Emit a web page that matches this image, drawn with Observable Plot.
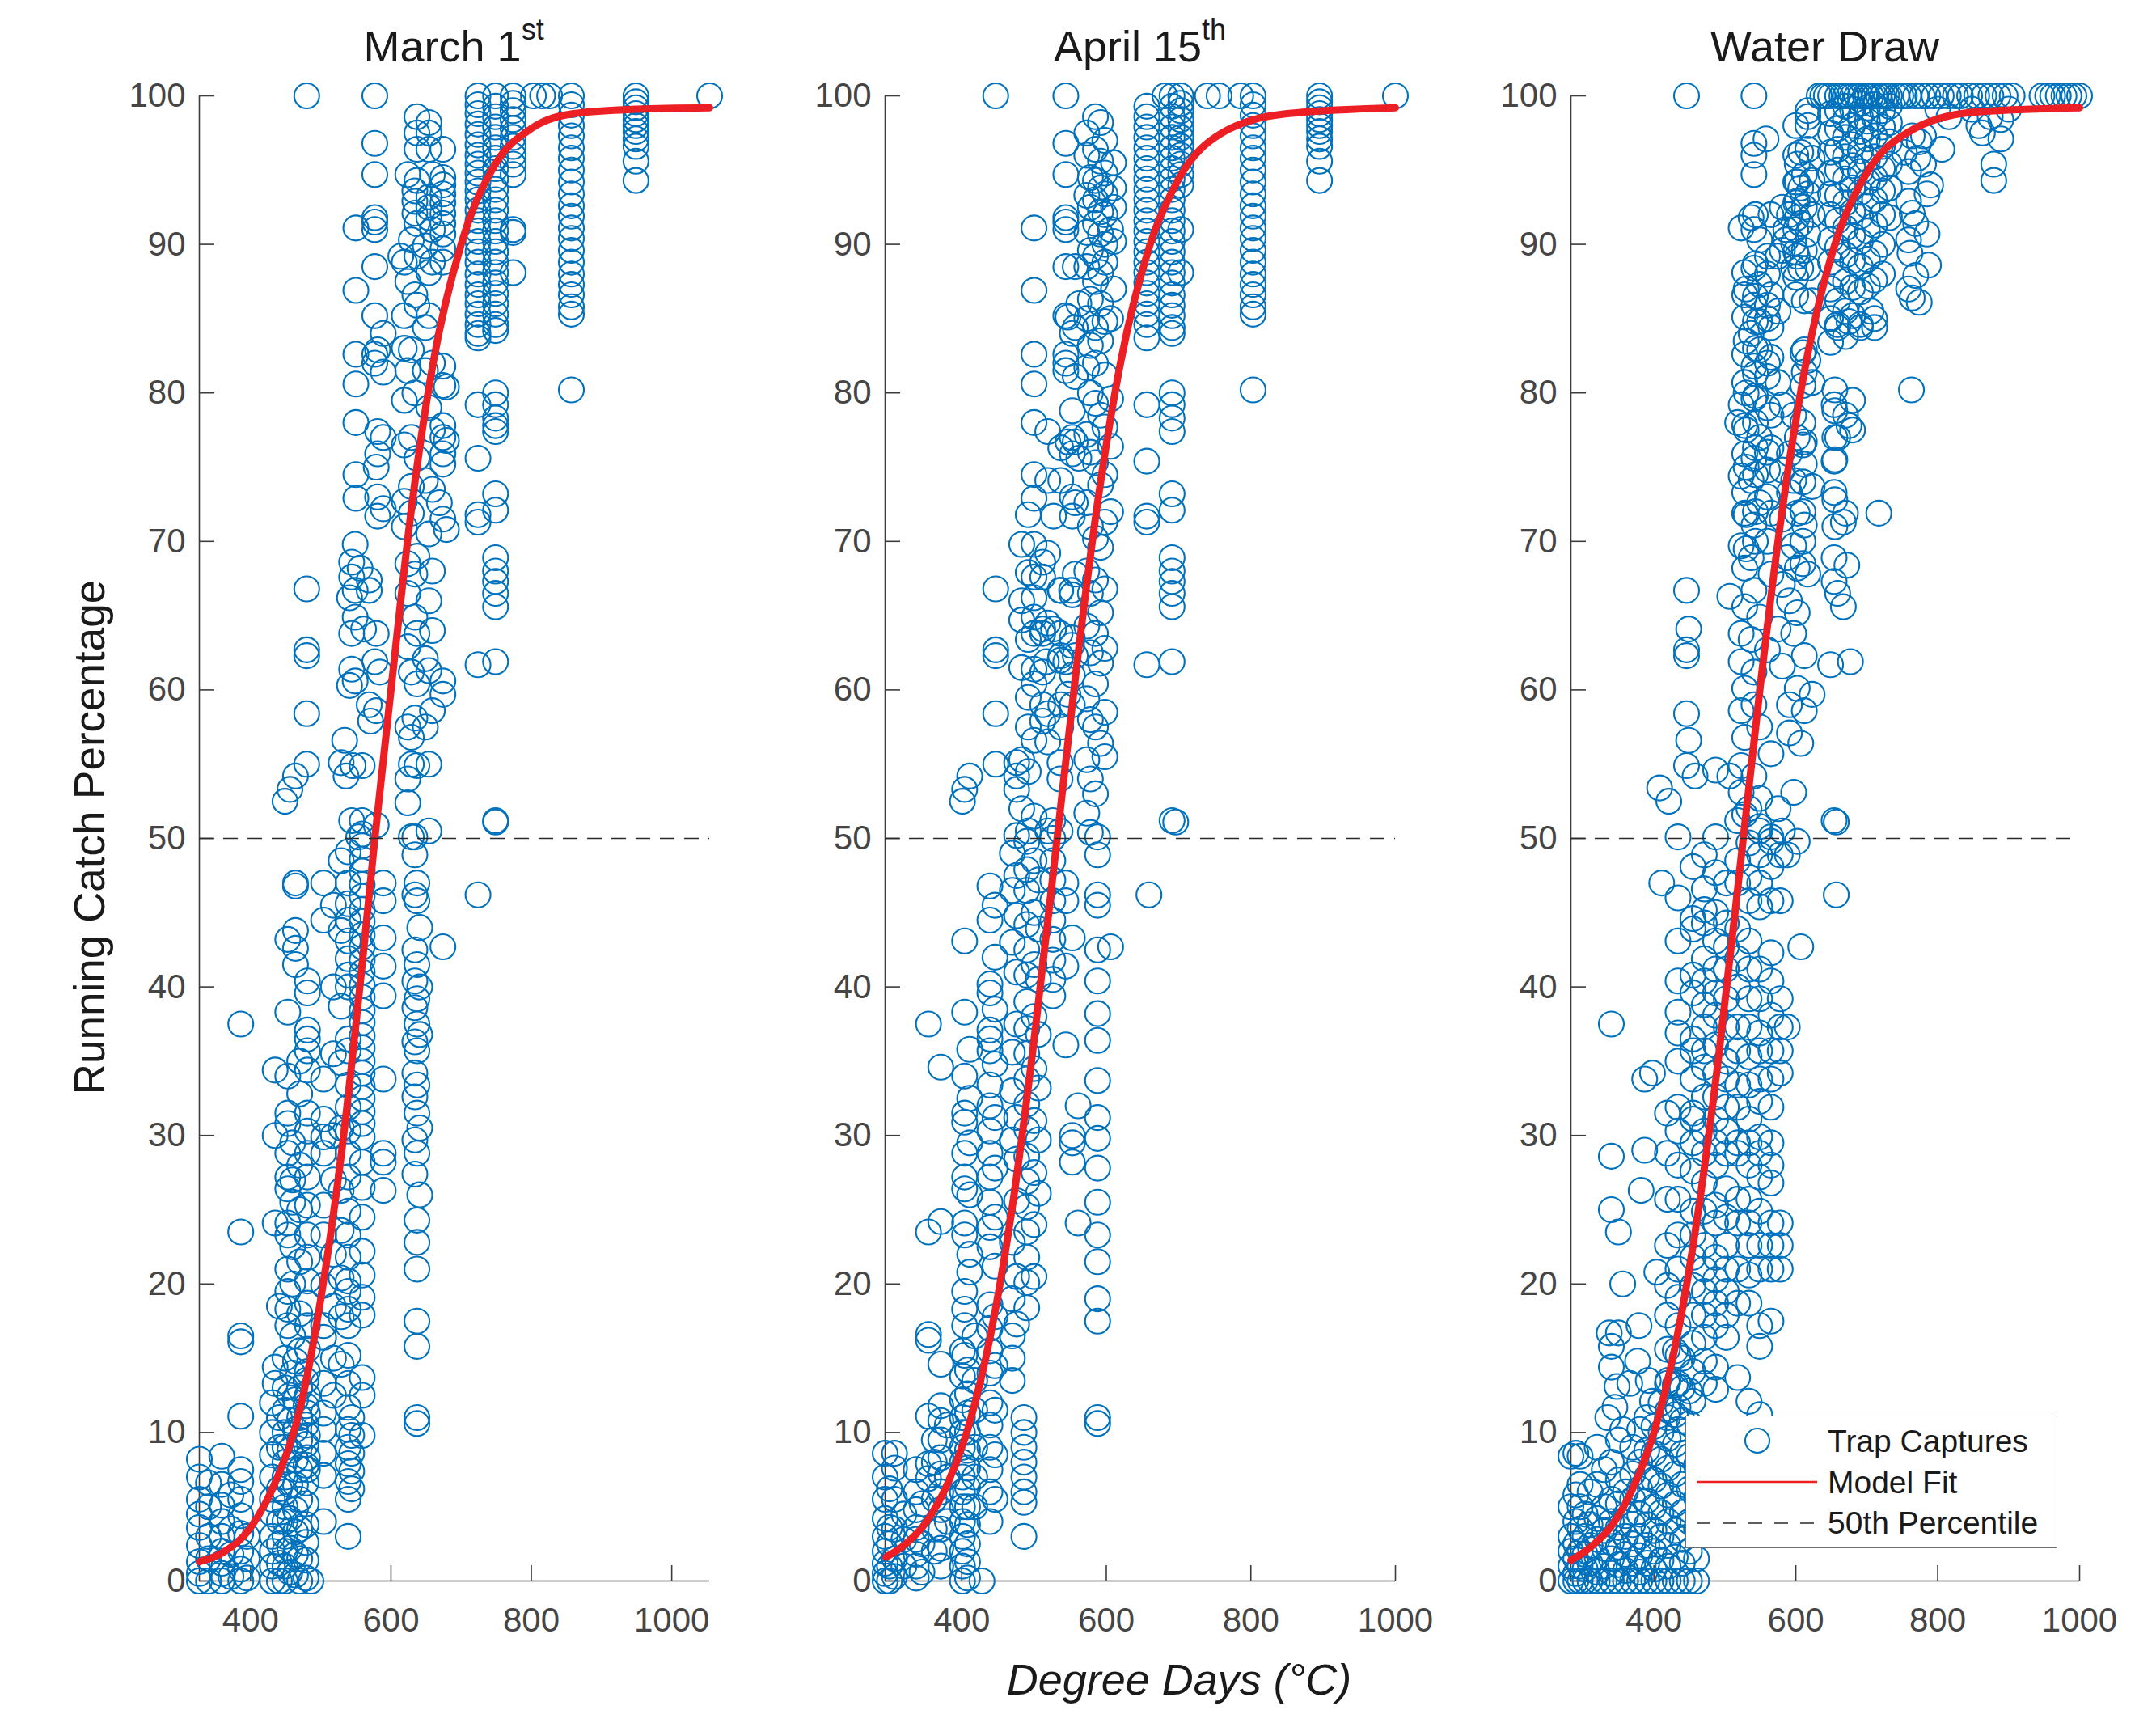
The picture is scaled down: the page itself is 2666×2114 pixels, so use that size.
<!DOCTYPE html>
<html>
<head>
<meta charset="utf-8">
<script src="https://cdn.jsdelivr.net/npm/d3@7"></script>
<script src="https://cdn.jsdelivr.net/npm/@observablehq/plot@0.6"></script>
<style>
  body { margin: 0; background: #fff; }
  #fig { position: relative; width: 2666px; height: 2114px; background: #fff; overflow: hidden;
         font-family: "Liberation Sans", Arial, Helvetica, sans-serif; }
  .panel { position: absolute; }
  .title { position: absolute; width: 800px; text-align: center; font-size: 54px; line-height: 54px; color: #1a1a1a; white-space: nowrap; }
  .title sup { font-size: 36px; line-height: 0; vertical-align: 27px; }
  .ylab { position: absolute; width: 1000px; text-align: center; font-size: 53px; line-height: 60px; color: #1a1a1a;
          transform: rotate(-90deg); transform-origin: 50% 50%; white-space: nowrap; }
  .xlab { position: absolute; width: 1000px; text-align: center; font-size: 54px; line-height: 54px; font-style: italic; color: #1a1a1a; white-space: nowrap; }
  .legend { position: absolute; background: #fff; border: 1.5px solid #6e6e6e; box-sizing: border-box; }
</style>
</head>
<body>
<div id="fig"></div>
<script>
// ---------------- data ----------------
const yTicks = [0, 10, 20, 30, 40, 50, 60, 70, 80, 90, 100];
const xTicks = [400, 600, 800, 1000];
const percentile = [50];
const titles = ["March 1<sup>st</sup>", "April 15<sup>th</sup>", "Water Draw"];
const legendLabels = ["Trap Captures", "Model Fit", "50th Percentile"];

// columns: [degree days, running catch % ...]
const marchCols = [
  [327, 8.2, 7.0, 5.5, 4.5, 3.6, 2.4, 1.3, 0.5, 0],
  [340, 6.6, 5.0, 3.0, 1.5, 0],
  [359, 8.4, 6.5, 5.1, 4.0, 3.0, 2.0, 1.2, 0.5, 0],
  [372, 5.8, 3.5, 1.8, 0.3],
  [386, 37.5, 23.5, 16.5, 16.1, 11.1, 7.5, 6.7, 5.5, 4.4, 3.2, 2.0, 0.8, 0],
  [395, 3.0, 1.5, 0.2],
  [431, 12, 10, 8.5, 7, 5.5, 4.5, 3, 2, 1, 0],
  [435, 34.4, 30.0, 24.1, 14.4, 13.3],
  [441, 18.5, 11, 9, 6.2, 4, 2.5, 1.2, 0],
  [449, 52.5, 15, 13, 11.5, 10, 9, 8, 7, 6, 5, 4, 3, 2, 1, 0],
  [453, 43.2, 38.3, 34.0, 31.5, 30.8, 28.8, 27.2, 26.4, 24.1, 23.3, 21, 19.5, 18.3, 17.2],
  [456, 53.3, 12.5, 10.8, 8.8, 6.5, 4.2, 2.2, 0.6],
  [460, 29.5, 27.0, 25.5, 22.5, 20.0, 16.5, 14],
  [464, 54.2, 47, 46.8, 43.8, 42.6, 41.5, 14.8, 12.2, 10.2, 8.2, 6.5, 4.8, 3.3, 1.8, 0.4],
  [470, 35, 32.8, 28, 25, 21.5, 18, 15.5, 13, 11, 9.5, 7.5, 5.5, 3.5, 1.5, 0],
  [479, 13.5, 11.8, 10.5, 9.2, 7.8, 6.6, 5.2, 3.8, 2.6, 1.4, 0.2],
  [480, 100, 66.8, 62.7, 62.3, 58.4, 55],
  [481, 40.4, 39.6, 37.1, 36.5, 35.7, 34.4, 31.5, 30.3, 28.8, 27.2, 25.3, 23.3, 21.8, 20.2, 18.7, 17.2, 15.6, 14.1, 12.5, 11.3, 9.8, 8.3, 7.5],
  [486, 0],
  [504, 47, 44.5, 33.8, 31.1, 29.9, 28.8, 25.3, 23.3, 19.9, 17.2, 16.4, 13.3, 11.3, 10.2, 8.6, 7.1, 4.0],
  [518, 45.5, 40, 35.5, 30, 27, 22, 18.5, 15, 12.5],
  [529, 55.1, 48.5, 43.8, 38.7, 34.9, 30.5, 26.3, 23.6, 20.4, 17.8, 14.6],
  [534, 56.6],
  [536, 54.2],
  [539, 49.1, 47, 45.6, 44.5, 43.1, 41.9, 40.8, 40.0, 36.5, 35.7, 33.4, 31.9, 30.3, 28.8, 27.2, 24.9, 23.3, 21.8, 20.2, 19.5, 18.3, 17.2, 15.2, 13.3, 11.7, 10.2, 9.0, 7.9, 6.7, 5.5, 3.0],
  [541, 66.2, 60.3],
  [544, 68.6, 67.6, 63.8, 61.4, 51.2, 11.0, 9.8, 8.6, 7.4, 6.2],
  [546, 54.9],
  [549, 69.8, 66.7, 64.9, 60.6],
  [550, 91.1, 86.9, 82.6, 80.6, 78.0, 74.5, 72.9],
  [554, 50.1],
  [556, 68.2],
  [559, 54.9, 51.2, 50.3, 49.5, 48.6, 47.8, 46.9, 46.1, 45.2, 44.4, 43.5, 42.7, 41.8, 41.0, 40.1, 39.3, 38.4, 37.6, 36.7, 35.9, 35.0, 34.2, 33.3, 32.5, 31.6, 30.8, 29.9, 28.2, 26.5, 24.5, 22.2, 20.6, 19.1, 17.9, 13.7, 12.5, 9.8],
  [561, 64.1],
  [569, 67.4, 66.7, 59.0],
  [571, 57.9],
  [577, 100, 96.8, 94.7, 91.8, 91.5, 91.0, 88.5, 85.2, 82.6, 82.0, 61.9],
  [579, 75.0, 63.8, 58.6, 50.9],
  [581, 82.9, 77.4, 75.9, 73.0, 71.7],
  [584, 61.2],
  [589, 84.0, 81.4, 77.0, 72.2, 47, 45.8, 43.3, 41.4, 39.4, 33.8, 28.8, 28.2, 26.3],
  [614, 89.2],
  [619, 88.8, 85.2, 83.0, 79.5, 76.5, 72.7, 71.0],
  [624, 94.7, 87.5, 81.5, 68.5, 66.5, 62.9, 57.5, 54.0, 52.4],
  [629, 90.3, 82.9, 77.0, 73.7, 71.9, 61.2, 56.8, 55.0, 50.1],
  [634, 93.6, 92.9, 92.1, 86.6, 80.0, 67.8, 64.9, 58.1, 50.1, 48.9, 46.2, 42.5, 40.4, 38.6, 36.3, 34.2, 32.6, 29.7, 27.4],
  [637, 98.6, 97.5, 96.4, 94.3, 91.4, 89.2, 85.9, 75.6, 69.0, 63.8, 60.4, 54.9, 47.0, 45.8, 41.5, 39.2, 37.5, 35.7, 33.4, 31.5, 28.8, 24.3, 22.8, 21.0, 17.5, 15.8, 11.0, 10.6],
  [641, 44.0, 40.0, 36.8, 30.5, 26.0],
  [649, 89.9, 84.4, 81.5, 74.1, 62.1, 57.5],
  [654, 98.2, 97.5, 96.4, 93.2, 92.5, 91.8, 88.1, 85.2, 79.0, 70.5, 66.0, 61.3, 55.0, 50.5],
  [659, 94.7, 91.0, 88.8, 82.0, 77.5, 73.5, 68.0, 64.0, 58.6],
  [669, 72.6],
  [674, 96.4, 94.5, 94.0, 93.4, 92.8, 92.1, 91.4, 90.7, 89.7, 88.8, 81.8, 80.5, 77.8, 77.0, 75.9, 75.2, 71.5, 60.6, 59.7, 42.7],
  [679, 80.4, 76.8, 70.8],
  [724, 100, 99.4, 98.8, 98.1, 97.4, 96.7, 96.0, 95.4, 94.8, 94.2, 93.6, 93.0, 92.3, 91.6, 90.9, 90.2, 89.5, 88.8, 88.0, 87.3, 86.6, 86.0, 85.3, 84.6, 84.0, 83.7, 79.2, 75.6, 71.8, 71.3, 61.7, 46.2],
  [749, 100, 99.3, 98.6, 97.9, 97.2, 96.5, 95.8, 95.1, 94.4, 93.7, 93.0, 92.3, 91.6, 90.9, 90.2, 89.5, 88.8, 88.1, 87.4, 86.7, 86.0, 85.3, 84.6, 84.2, 80.0, 79.2, 78.3, 77.8, 77.4, 73.2, 72.1, 68.9, 68.0, 67.3, 66.5, 65.6, 61.9, 51.2, 51.1],
  [774, 100, 99.5, 99.0, 98.4, 97.8, 97.2, 96.6, 96.0, 95.4, 94.7, 91.0, 90.8, 88.1],
  [803, 100], [816, 100], [826, 100],
  [857, 100, 99.4, 98.7, 98.0, 97.3, 96.5, 95.8, 95.0, 94.2, 93.4, 92.6, 91.9, 91.1, 90.4, 89.6, 88.8, 88.0, 87.3, 86.6, 85.8, 85.3, 80.2],
  [949, 100, 99.6, 99.2, 98.8, 98.4, 98.0, 97.6, 97.1, 96.6, 95.6, 94.3],
  [1054, 100]
];

const aprilCols = [
  [294, 8.6, 7.0, 5.5, 4.2, 3.0, 2.0, 1.2, 0.5, 0],
  [300, 6.2, 3.6, 2.5, 1.0, 0],
  [307, 8.6, 7.6, 5.5, 3.5, 1.5, 0.3],
  [320, 4.5, 2.8, 1.0],
  [337, 7.5, 6.0, 4.8, 3.6, 2.8, 1.8, 1.0, 0.2],
  [345, 5.2, 2.5, 0.6],
  [354, 37.5, 23.5, 16.6, 16.2, 11.1, 7.9, 6.9],
  [362, 9.5, 8.0, 5.5, 3.5, 2.0],
  [371, 34.6, 24.2, 14.6, 11.8, 10.8, 9.5, 8.3, 7.2, 6.0, 4.8, 3.5, 2.2, 1.0],
  [380, 10.5, 7.0, 4.0],
  [401, 52.5, 15.5, 13.8, 12.2, 11.0, 10.0, 9.0, 8.0, 7.0, 6.0, 5.0, 4.0, 3.0, 2.0, 1.0, 0],
  [404, 53.3, 43.1, 38.3, 34.0, 31.5, 30.9, 28.8, 27.2, 26.4, 24.1, 23.3, 19.5, 18.3, 17.2, 15.2],
  [408, 14.2, 12.6, 11.3, 10.0, 8.8, 7.6, 6.3, 5.0, 3.8, 2.5, 1.3, 0.2],
  [411, 54.2, 35.8, 32.5, 29.5, 26.0, 22.0, 20.8],
  [418, 16.5, 13.5, 11.5, 9.0, 7.0, 5.0],
  [428, 0],
  [439, 46.8, 44.5, 40.2, 39.6, 37.1, 36.5, 35.7, 33.4, 32.0, 30.3, 28.8, 27.2, 25.5, 23.8, 22.5, 18.6, 17.0, 15.5, 14.0, 12.0, 10.5, 9.0, 7.5, 6.0, 4.0],
  [446, 45.5, 42.0, 38.5, 34.8, 31.2, 27.8, 24.5, 21.2, 17.8, 14.5, 11.5, 8.5, 5.5],
  [447, 100, 66.8, 62.7, 62.3, 58.4, 55.0],
  [470, 49.0, 46.5, 43.0, 35.6, 33.0, 29.7, 22.8, 19.0, 16.5, 15.0, 13.5],
  [476, 55.1, 54.2, 53.3, 50.2, 47.5, 44.8, 41.0, 37.5, 31.2, 28.4, 25.6, 20.5, 17.3],
  [483, 69.8, 66.0, 64.7, 61.5, 55.3, 52.0],
  [486, 11.0, 10.0, 9.0, 8.0, 7.0, 6.0, 5.3, 3.0],
  [490, 49.8, 47.9, 46.5, 44.2, 42.5, 40.8, 39.0, 37.2, 35.5, 33.8, 32.1, 30.4, 28.6, 26.9, 25.2, 23.5, 21.8, 20.1, 18.4],
  [492, 71.8, 67.9, 63.4, 59.5, 57.5, 54.5, 50.5],
  [500, 91.1, 86.9, 82.6, 80.6, 78.0, 74.5, 72.9, 69.8, 67.6, 66.2, 64.9, 63.8, 61.4, 60.4, 56.6, 51.5, 48.5, 45.0, 41.5, 38.0, 34.5, 31.0, 27.5, 24.0, 20.5],
  [506, 47.2, 43.9, 40.5, 36.8, 33.2, 29.7, 26.1],
  [512, 68.6, 67.6, 64.1, 63.8, 61.2, 59.0, 57.9],
  [517, 61.9],
  [519, 77.4, 74.1, 69.2, 64.5, 58.4, 56.5, 50.5],
  [526, 51.2, 50.0, 48.5, 47.2, 45.8, 44.5, 43.2, 41.8, 40.5, 39.4],
  [527, 71.7, 64.1],
  [536, 66.7, 63.8, 62.0, 55.1, 54.0, 50.5],
  [537, 76.3, 74.1, 66.7, 62.3, 59.0, 57.5],
  [544, 100, 96.8, 94.7, 91.8, 91.5, 91.0, 88.5, 85.2, 82.6, 82.0, 81.5, 61.9, 47.0, 45.8, 41.4, 36.1],
  [547, 85.1, 76.7, 59.7],
  [552, 66.7, 63.0],
  [553, 84.0, 78.8, 77.0, 75.9, 73.0, 71.7, 66.4, 63.5, 61.0, 59.0, 43.3, 30.0, 29.5, 28.2],
  [557, 88.5, 84.4, 81.1, 76.7, 72.6, 67.8, 62.3],
  [561, 32.0, 24.1],
  [562, 86.0, 75.6],
  [573, 97.5, 96.0, 93.3, 90.8, 88.5, 85.0, 81.7, 77.2, 72.6, 68.0, 64.3, 59.4, 55.3, 51.7],
  [578, 94.5, 92.5, 89.6, 86.3, 83.2, 80.0, 76.0, 71.0, 66.5, 62.5, 58.0, 54.0, 50.4],
  [585, 98.6, 96.4, 94.3, 93.0, 91.4, 89.2, 87.5, 84.4, 82.0, 79.3, 75.3, 70.2, 67.4, 63.8, 60.4, 57.5, 53.0],
  [588, 50.1, 48.9, 46.2, 45.5, 42.5, 40.4, 38.2, 36.4, 33.7, 31.2, 29.8, 27.8, 25.5, 23.3, 21.5, 19.0, 17.5, 11.0, 10.6],
  [592, 98.2, 95.6, 93.8, 92.2, 90.7, 88.1, 86.0, 83.5, 78.5, 73.8, 69.6, 65.2, 61.8, 56.4],
  [598, 97.0, 94.8, 93.4, 92.0, 90.0, 88.8, 84.8, 81.2, 77.7, 74.5, 71.3, 66.8, 62.8, 58.5, 55.5],
  [606, 91.0, 85.0, 79.6, 76.4, 72.0, 42.7],
  [610, 95.5, 93.8, 92.5, 90.2, 87.0],
  [656, 99.3, 98.6, 97.9, 97.2, 96.5, 95.8, 95.1, 94.4, 93.7, 93.0, 92.3, 91.6, 90.9, 90.2, 89.5, 88.8, 88.1, 87.4, 86.7, 86.0, 85.3, 84.6, 83.7, 79.2, 75.4, 71.7, 71.3, 61.7],
  [659, 46.2],
  [681, 100],
  [691, 100, 99.3, 98.6, 97.9, 97.2, 96.5, 95.8, 95.1, 94.4, 93.7, 93.0, 92.3, 91.6, 90.9, 90.2, 89.5, 88.8, 88.1, 87.4, 86.6, 85.9, 85.2, 84.4, 84.0, 80.0, 79.2, 78.3, 77.4, 73.2, 72.1, 68.9, 68.0, 67.3, 66.5, 65.6, 61.9, 51.2],
  [696, 51.1],
  [703, 100, 99.5, 99.0, 98.4, 97.8, 97.2, 96.6, 96.0, 95.4, 94.7, 94.0, 91.0, 88.1],
  [740, 100], [756, 100], [786, 100],
  [803, 100, 99.4, 98.7, 98.0, 97.3, 96.5, 95.8, 95.0, 94.2, 93.4, 92.6, 91.9, 91.1, 90.4, 89.6, 88.8, 88.0, 87.3, 86.6, 85.8, 85.3, 80.2],
  [895, 100, 99.6, 99.2, 98.8, 98.4, 98.0, 97.6, 97.1, 96.6, 95.6, 94.3],
  [1000, 100]
];

const waterCols = [
  [283, 0, 1.0, 2.0, 3.0, 5.0, 8.4],
  [290, 0, 0.5, 1.5, 2.5, 4.0, 5.8, 8.6],
  [296, 0, 1, 2, 3.5, 5, 6.5, 8.4],
  [303, 0, 0.8, 1.8, 3, 4.5],
  [310, 0, 1.2, 2.4, 3.8, 6.0],
  [320, 0, 0.6, 1.6, 2.8, 4.2, 6.5, 9.0],
  [330, 0, 1, 2.2, 3.4, 5.0, 7.5],
  [335, 11.0], [337, 16.7],
  [340, 0, 0.5, 1.5, 2.6, 4.0, 5.5, 8.0, 14.4, 15.8, 25.0, 28.6, 37.5],
  [345, 11.7], [348, 13.1],
  [350, 0, 1.1, 2.3, 3.6, 5.2, 6.8, 9.5, 16.7, 23.5],
  [356, 10.2, 20.0],
  [360, 0, 0.7, 1.8, 3.0, 4.4, 6.0],
  [366, 13.3],
  [370, 0, 1.2, 2.5, 3.8, 5.5, 7.2, 9.0],
  [377, 14.8], [379, 17.2],
  [380, 0, 0.6, 1.7, 3.0, 4.5, 6.2, 8.0, 10.2],
  [382, 26.3], [387, 29.0, 33.8],
  [390, 0, 1.2, 2.4, 3.8, 5.4, 7.0, 8.8, 11.0],
  [392, 13.5], [398, 12.1, 34.2],
  [400, 0, 0.8, 2.0, 3.4, 5.0, 6.8, 8.6, 10.4],
  [404, 20.8], [408, 53.4],
  [410, 0, 1.4, 3.0, 4.6, 6.4, 8.2, 10.0, 12.0],
  [411, 47.0],
  [419, 31.5, 28.8, 25.7, 22.6, 19.9, 17.9, 15.6, 13.3, 11.0],
  [420, 0, 1.0, 2.4, 4.0, 5.8, 7.6, 9.6, 11.5, 13.5],
  [421, 52.5],
  [430, 0, 1.6, 3.4, 5.2, 7.2, 9.2, 11.2, 13.2, 15.5],
  [434, 50.1, 46.0, 43.1, 40.4, 38.3, 36.9, 35.0, 31.9, 30.3, 28.0, 25.7, 23.3, 21.0, 19.1, 17.2, 15.2, 13.3, 11.7, 10.2],
  [440, 0, 1.2, 2.8, 4.6, 6.5, 8.6, 10.8, 13.0, 15.0],
  [446, 100, 66.7, 62.7, 62.3, 58.4, 54.9],
  [449, 64.1, 56.6],
  [450, 0, 2.0, 4.0, 6.2, 8.4, 10.6, 12.8],
  [455, 48.1, 44.6, 43.9, 40.8, 39.6, 36.5, 35.7, 33.8, 31.5, 31.1, 29.5, 27.6, 24.9, 23.3, 21.8, 19.9, 17.9, 16.0, 14.1, 12.1],
  [458, 54.2],
  [460, 0, 1.5, 3.5, 5.6, 7.8],
  [471, 48.9, 46.6, 45.2, 44.3, 41.9, 40.4, 38.8, 37.3, 35.7, 34.6, 32.6, 30.3, 28.8, 26.8, 24.9, 22.6, 21.0, 19.5, 17.9, 16.4, 14.8, 13.3],
  [487, 54.6, 50.1, 47.7, 45.0, 43.1, 41.2, 39.6, 38.1, 36.1, 34.2, 32.6, 31.1, 29.5, 28.0, 25.3, 24.1, 21.8, 20.3, 18.7, 17.2, 14.4, 12.9],
  [502, 47.0, 44.3, 42.7, 41.2, 39.2, 37.3, 35.0, 33.8, 31.9, 30.3, 28.8, 26.4, 24.5, 22.6, 21.0, 19.5, 17.9, 16.4],
  [507, 66.3, 54.2],
  [518, 78.0, 51.2, 48.5, 47.0, 43.9, 41.9, 40.0, 37.3, 35.7, 33.4, 31.9, 29.5, 28.8, 25.7, 24.1, 21.0, 18.7, 13.7],
  [523, 91.1, 79.2, 74.4, 69.7, 63.8, 61.9, 58.6, 54.9, 53.1],
  [528, 88.1, 86.6, 85.1, 82.6, 80.7, 77.8, 75.9, 73.3, 71.9, 68.2, 65.6, 60.1, 56.8, 51.6],
  [530, 87.0, 83.5, 80.0, 77.5, 75.0, 71.8, 69.5],
  [534, 52.0, 49.7, 47.4, 45.8, 43.1, 41.2, 39.2, 37.3, 35.3, 33.4, 31.1, 29.5, 28.0, 25.7, 24.1, 22.6, 20.6, 18.7, 12.1],
  [537, 91.8, 84.0, 74.1, 68.9, 63.4],
  [541, 100, 96.8, 96.0, 94.7, 91.0, 88.4, 85.9, 81.8, 79.6, 75.6, 71.1, 66.7, 61.2, 59.0, 54.2],
  [543, 92.0, 88.7, 86.5, 84.8, 83.0, 81.3, 79.8, 78.0, 76.3, 74.5, 72.0, 70.0],
  [549, 90.3, 87.3, 84.8, 82.9, 77.0, 72.6, 64.9, 57.5, 52.7, 50.5, 50.8, 48.9, 47.0, 45.4, 41.2, 39.2, 36.9, 35.7, 33.8, 32.3, 29.9, 28.8, 27.2, 24.9, 22.6, 21.0, 17.2, 15.8, 11.2],
  [558, 97.1],
  [560, 89.2, 88.0, 85.9, 85.0, 82.0, 81.1, 79.0, 76.0, 74.8, 73.0, 70.0, 62.7],
  [565, 92.0, 86.6, 84.4, 82.4, 78.5, 76.3, 71.9, 67.8, 55.7, 49.8, 50.1, 48.1, 45.8, 42.3, 40.4, 38.1, 35.7, 33.8, 31.9, 29.5, 28.0, 26.8, 24.1, 22.6, 21.0, 17.5],
  [575, 89.2, 85.5, 80.7, 64.1, 52.0],
  [578, 48.9, 45.8, 39.2, 37.3, 35.7, 34.2, 24.1, 22.6, 21.0],
  [581, 92.5, 89.6, 79.2, 74.8, 71.5, 67.1, 61.6, 50.5],
  [586, 91.0, 90.3],
  [588, 68.9, 48.9, 37.3],
  [591, 92.0, 75.9, 73.3, 66.0, 59.0, 57.1],
  [597, 90.1, 88.4, 78.5, 74.1, 69.7, 63.8, 53.1],
  [600, 98.0, 96.0, 94.2, 92.8, 91.0, 89.5, 87.8, 86.6],
  [602, 95.4, 94.2, 92.9, 91.8, 89.2, 77.0, 71.9, 68.2, 65.2, 60.1, 49.8],
  [607, 96.2, 93.8, 91.4, 88.4, 56.4, 42.7],
  [610, 82.7, 80.5, 78.0, 76.5, 74.0, 72.0, 70.0, 68.5],
  [612, 94.7, 92.5, 89.6, 86.2, 82.9, 81.4, 76.7, 75.2, 71.1, 62.3, 58.6],
  [617, 99.0, 98.6, 98.0, 96.4, 93.4, 90.7, 88.4, 82.2, 67.8],
  [623, 95.8, 94.3, 92.0, 86.2, 80.7, 73.7, 59.7],
  [633, 100], [638, 100], [643, 100],
  [649, 100, 98.8, 97.5, 96.2, 94.8, 93.4, 92.0, 90.3, 88.8, 87.0, 85.0, 83.4, 61.7],
  [654, 79.2, 75.4, 73.3, 68.9, 67.3, 51.2],
  [655, 80.2, 78.8, 77.0, 75.5, 72.8, 71.0],
  [657, 51.1, 46.2],
  [659, 100, 99.0, 97.8, 96.4, 95.0, 93.3, 91.6, 89.8, 88.0, 86.2, 84.6, 84.4, 77.0, 66.5],
  [665, 100],
  [667, 71.3, 65.6],
  [670, 100, 99.3, 98.4, 97.2, 95.9, 94.4, 92.8, 91.1, 89.3, 87.5, 85.5, 83.8, 78.5, 71.9],
  [672, 68.4],
  [675, 100, 84.8, 77.8],
  [677, 61.9],
  [680, 100, 99.1, 98.0, 96.7, 95.3, 93.8, 92.2, 90.6, 88.9, 87.1, 85.2, 79.5, 77.5],
  [686, 100],
  [691, 100, 99.5, 98.6, 97.6, 96.3, 94.9, 93.5, 91.9, 90.2, 88.5, 86.8, 84.6, 84.4],
  [698, 100],
  [701, 100, 99.2, 98.3, 97.1, 95.7, 94.2, 92.6, 90.9, 89.0, 87.2],
  [706, 100, 85.5],
  [711, 100, 99.4, 98.5, 97.3, 95.9, 94.5, 93.0, 91.3, 89.4, 87.6, 85.0, 84.4],
  [717, 100, 71.9],
  [722, 100, 99.0, 97.9, 96.6, 95.1, 93.6, 92.0, 90.0, 88.0],
  [728, 100],
  [732, 100, 99.3, 98.2, 96.9, 95.4, 93.8, 91.8],
  [742, 100], [748, 100],
  [753, 100, 96.2],
  [759, 100, 94.9, 92.9, 90.3, 87.0],
  [761, 89.4], [763, 80.2],
  [764, 97.3, 92.1, 86.4],
  [769, 100, 91.4, 87.9],
  [772, 95.8],
  [774, 96.9, 86.1],
  [778, 100],
  [780, 97.3, 95.4],
  [785, 93.4, 90.7],
  [786, 100], [787, 88.6], [790, 94.0], [795, 100], [800, 99.1], [805, 100], [806, 96.4],
  [815, 100], [816, 98.6], [825, 100], [832, 100], [845, 100], [848, 99.1], [855, 100],
  [858, 98.0], [863, 97.5], [865, 100], [874, 98.6], [875, 100], [879, 95.4, 94.3],
  [885, 100], [889, 98.4, 97.1], [895, 100], [900, 99.1], [905, 100],
  [947, 100], [955, 100], [962, 100], [970, 100], [978, 100], [985, 100], [992, 100], [1000, 100]
];

// model fit curves
const marchFitX = [327, 360, 400, 440, 470, 500, 530, 560, 577, 600, 630, 660, 700, 750, 800, 860, 950, 1054];
const marchFitY = [1.3, 1.9, 3.6, 7.2, 11.5, 19.0, 29.0, 42.0, 50.0, 60.0, 72.5, 82.0, 90.0, 95.5, 97.8, 98.8, 99.1, 99.2];
const aprilFitX = [295, 320, 350, 380, 410, 440, 470, 500, 531, 560, 590, 620, 660, 700, 760, 850, 1000];
const aprilFitY = [1.6, 2.4, 3.9, 6.5, 10.5, 16.6, 25.2, 36.4, 49.6, 62.0, 73.3, 82.1, 89.9, 94.4, 97.5, 98.8, 99.2];
const waterFitX = [283, 310, 340, 370, 400, 430, 460, 490, 525, 550, 580, 610, 650, 700, 760, 850, 1000];
const waterFitY = [1.4, 2.25, 3.7, 6.2, 10.0, 15.8, 24.1, 34.8, 49.6, 60.3, 71.8, 80.9, 89.2, 94.8, 97.6, 98.9, 99.2];

// ---------------- layout ----------------
const frameTop = 118, frameBottom = 1954;
const panelLayout = [
  {left: 245.6, width: 631},
  {left: 1094, width: 631},
  {left: 1942, width: 629}
];
const ML = 130, MR = 45, MT = 40, MB = 80;
const blue = "#0072BD", red = "#EC1F24", axisColor = "#3c3c3c";

const flatten = cols => cols.flatMap(c => c.slice(1).map(v => ({x: c[0], y: v})));
const zipFit = (xs, ys) => xs.map((x, i) => ({x, y: ys[i]}));

const panels = [
  {title: titles[0], pts: flatten(marchCols), fit: zipFit(marchFitX, marchFitY)},
  {title: titles[1], pts: flatten(aprilCols), fit: zipFit(aprilFitX, aprilFitY)},
  {title: titles[2], pts: flatten(waterCols), fit: zipFit(waterFitX, waterFitY)}
];

const fig = document.getElementById("fig");
const fh = frameBottom - frameTop;

panels.forEach((p, i) => {
  const lay = panelLayout[i];
  const fw = lay.width;
  const xDomain = d3.extent(p.pts, d => d.x);
  const chart = Plot.plot({
    width: ML + fw + MR,
    height: MT + fh + MB,
    marginLeft: ML, marginRight: MR, marginTop: MT, marginBottom: MB,
    x: {domain: xDomain, ticks: xTicks, tickSize: 0, tickPadding: 33, label: null, tickFormat: d => String(d)},
    y: {domain: [0, 100], ticks: yTicks, tickSize: 0, tickPadding: 17, label: null},
    style: {
      fontFamily: '"Liberation Sans", Arial, Helvetica, sans-serif',
      fontSize: "42px",
      color: "#454545",
      background: "transparent",
      overflow: "visible",
      maxWidth: "none"
    },
    marks: [
      Plot.ruleY([0], {stroke: axisColor, strokeWidth: 1.6}),
      Plot.ruleX([xDomain[0]], {stroke: axisColor, strokeWidth: 1.6}),
      Plot.tickY(yTicks, {y: d => d, stroke: axisColor, strokeWidth: 1.6, insetRight: fw - 19}),
      Plot.tickX(xTicks.filter(t => t >= xDomain[0] && t <= xDomain[1]), {x: d => d, stroke: axisColor, strokeWidth: 1.6, insetTop: fh - 19}),
      Plot.dot(p.pts, {x: "x", y: "y", r: 15.5, stroke: blue, strokeWidth: 2.1, fill: "none"}),
      Plot.line(p.fit, {x: "x", y: "y", stroke: red, strokeWidth: 9, curve: "monotone-x"}),
      Plot.ruleY(percentile, {y: d => d, stroke: "#2a2a2a", strokeWidth: 1.6, strokeDasharray: "18,12"})
    ]
  });
  const wrap = document.createElement("div");
  wrap.className = "panel";
  wrap.style.left = (lay.left - ML) + "px";
  wrap.style.top = (frameTop - MT) + "px";
  wrap.appendChild(chart);
  fig.appendChild(wrap);

  const t = document.createElement("div");
  t.className = "title";
  t.innerHTML = p.title;
  t.style.left = (lay.left + fw / 2 - 400) + "px";
  t.style.top = "30px";
  fig.appendChild(t);
});

// y label
const yl = document.createElement("div");
yl.className = "ylab";
yl.textContent = "Running Catch Percentage";
yl.style.left = (111 - 500) + "px";
yl.style.top = (1035 - 30) + "px";
fig.appendChild(yl);

// x label
const xl = document.createElement("div");
xl.className = "xlab";
xl.textContent = "Degree Days (°C)";
xl.style.left = (1458 - 500) + "px";
xl.style.top = "2049px";
fig.appendChild(xl);

// legend
const lg = document.createElement("div");
lg.className = "legend";
lg.style.left = "2084px"; lg.style.top = "1750px";
lg.style.width = "460px"; lg.style.height = "164px";
const lsvg = d3.create("svg").attr("width", 460).attr("height", 164)
  .style("position", "absolute").style("left", "-1.5px").style("top", "-1.5px");
lsvg.append("circle").attr("cx", 89).attr("cy", 31).attr("r", 15).attr("fill", "none").attr("stroke", blue).attr("stroke-width", 2.1);
lsvg.append("line").attr("x1", 14).attr("x2", 163).attr("y1", 82).attr("y2", 82).attr("stroke", red).attr("stroke-width", 2.6);
lsvg.append("line").attr("x1", 14).attr("x2", 163).attr("y1", 133).attr("y2", 133).attr("stroke", "#2a2a2a").attr("stroke-width", 1.5).attr("stroke-dasharray", "17,15");
const baselines = [45, 96, 146];
legendLabels.forEach((lab, i) => {
  lsvg.append("text").attr("x", 176).attr("y", baselines[i]).text(lab)
    .attr("font-family", '"Liberation Sans", Arial, sans-serif').attr("font-size", 39).attr("fill", "#1a1a1a");
});
lg.appendChild(lsvg.node());
fig.appendChild(lg);
</script>
</body>
</html>
